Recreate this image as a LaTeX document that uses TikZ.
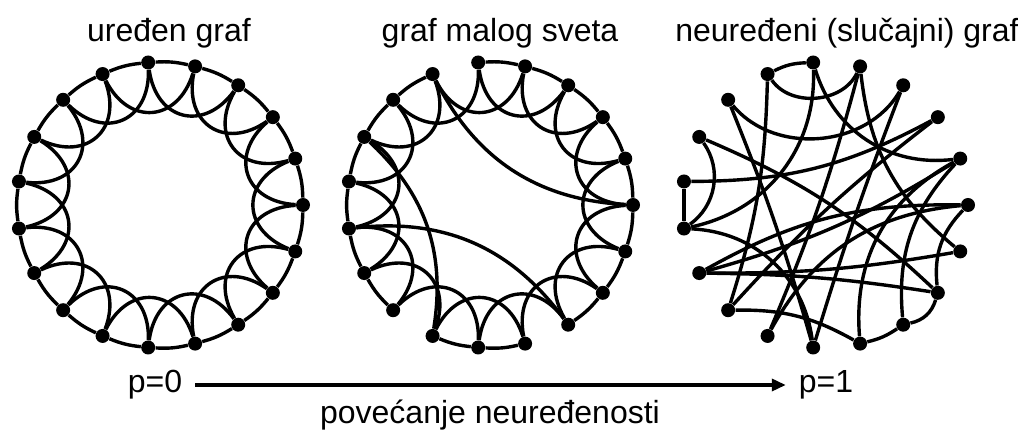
\documentclass[tikz,border=0pt]{standalone}
\usepackage{fontspec}
\setmainfont{Liberation Sans}
\usetikzlibrary{arrows.meta}

\begin{document}
\begin{tikzpicture}[x=0.5pt, y=0.5pt,
    dot/.style={circle, fill=black, inner sep=0pt, minimum size=7pt},
    link/.style={line width=1.7pt},
    rim/.style={link, bend right=8},
    hop/.style={link, bend left=68, looseness=1.5},
    wire/.style={link, bend left=#1},
    graftitle/.style={font=\fontsize{16}{19}\selectfont, anchor=base},
    axistext/.style={font=\fontsize{16}{19}\selectfont}]
\useasboundingbox (0,0) rectangle (1018,433);

% uredjen graf
\node[graftitle] (title-a) at (169,391) {uređen graf};
\begin{scope}[shift={(160,228)}]
  \foreach \k in {0,...,18}
    \node[dot] (a\k) at (\k*360/19:143) {};
\end{scope}
\foreach \k in {0,...,18}{
  \pgfmathtruncatemacro{\n}{mod(\k+1,19)}
  \pgfmathtruncatemacro{\m}{mod(\k+2,19)}
  \draw[rim] (a\k) to (a\n);
  \draw[hop] (a\k) to (a\m);
}

% graf malog sveta
\node[graftitle] (title-b) at (500,391) {graf malog sveta};
\begin{scope}[shift={(490,228)}]
  \foreach \k in {0,...,18}
    \node[dot] (b\k) at (\k*360/19:143) {};
\end{scope}
\foreach \k in {0,...,18}{
  \pgfmathtruncatemacro{\m}{mod(\k+2,19)}
  \draw[hop] (b\k) to (b\m);
}
\foreach \k in {0,1,2,3,4,6,7,8,9,10,11,13,14,16,17,18}{
  \pgfmathtruncatemacro{\n}{mod(\k+1,19)}
  \draw[rim] (b\k) to (b\n);
}
% rewired links
\draw[wire=-30] (b6) to (b0);
\draw[wire=28] (b8) to (b13);
\draw[wire=30] (b10) to (b16);

% slucajni graf
\node[graftitle] (title-c) at (847,391) {neuređeni (slučajni) graf};
\begin{scope}[shift={(825,228)}]
  \foreach \k in {0,...,18}
    \node[dot] (c\k) at (\k*360/19:143) {};
\end{scope}
\foreach \i/\j/\b in {5/6/-12, 4/6/60, 6/12/8, 5/10/40, 1/5/40, 18/4/22,
    4/13/4, 3/7/55, 14/3/2, 2/9/14, 12/2/5, 15/1/33, 16/1/24, 13/0/28,
    17/0/25, 11/0/15, 11/17/4, 11/18/-5, 11/1/-8, 12/15/15, 7/14/3,
    8/17/10, 8/10/45, 9/10/0, 15/16/-10, 16/17/-30, 10/14/40}
  \draw[wire=\b] (c\i) to (c\j);

% p axis
\node[axistext] (p0) at (155,48) {p=0};
\node[axistext] (p1) at (826,48) {p=1};
\draw[link, -{Triangle[length=7pt, width=6pt]}, shorten <=3pt, shorten >=3pt] (p0) -- (p1);
\node[axistext, anchor=base] (disorder) at (490,9) {povećanje neuređenosti};
\end{tikzpicture}
\end{document}
